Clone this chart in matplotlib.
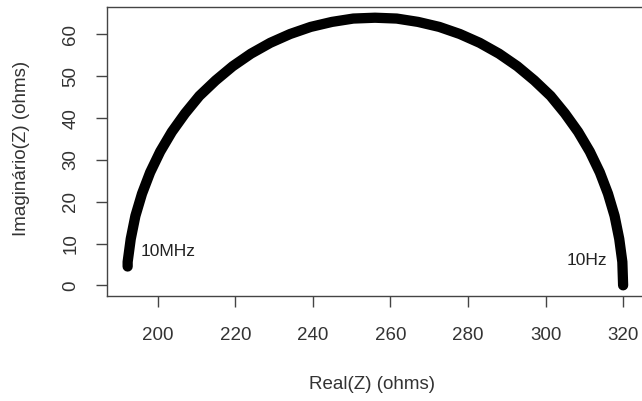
import matplotlib
matplotlib.use('Agg')
import matplotlib.pyplot as plt

# Nyquist plot: Real(Z) vs Imaginary(Z), from 10Hz (right) to 10MHz (left)
real_z = [320.0, 319.8, 319.0, 317.8, 316.1, 314.0, 311.4, 308.4, 305.0, 301.3,
          297.1, 292.7, 288.0, 283.0, 277.9, 272.6, 267.1, 261.6, 256.0, 250.4,
          244.9, 239.4, 234.1, 229.0, 224.0, 219.3, 214.9, 210.7, 207.0, 203.6,
          200.6, 198.0, 195.9, 194.2, 193.0, 192.2, 192.2]
imag_z = [0.0, 5.6, 11.1, 16.6, 21.9, 27.0, 32.0, 36.7, 41.1, 45.3,
          49.0, 52.4, 55.4, 58.0, 60.1, 61.8, 63.0, 63.8, 64.0, 63.8,
          63.0, 61.8, 60.1, 58.0, 55.4, 52.4, 49.0, 45.3, 41.1, 36.7,
          32.0, 27.0, 21.9, 16.6, 11.1, 5.6, 4.5]
x_ticks = [200, 220, 240, 260, 280, 300, 320]
y_ticks = [0, 10, 20, 30, 40, 50, 60]

plt.rcParams['font.family'] = ['Liberation Sans', 'DejaVu Sans']

fig = plt.figure(figsize=(6.42, 4.01), dpi=100)
ax = fig.add_axes([0.1667, 0.2618, 0.8348, 0.7207])

ax.plot(real_z, imag_z, color='black', lw=7.4,
        solid_capstyle='round', solid_joinstyle='round')

# frequency annotations at the two ends
ax.text(195.5, 8, '10MHz', fontsize=12.5, color='#222222', ha='left', va='center')
ax.text(316, 6, '10Hz', fontsize=12.5, color='#222222', ha='right', va='center')

# R-style 4% padding of the data range
ax.set_xlim(186.88, 325.12)
ax.set_ylim(-2.56, 66.56)
ax.set_xticks(x_ticks)
ax.set_yticks(y_ticks)

for s in ax.spines.values():
    s.set_color('#444444')
    s.set_linewidth(1.0)

ax.tick_params(axis='both', direction='out', length=8, width=1, color='#444444',
               labelsize=13.5, labelcolor='#333333', pad=14)
ax.tick_params(axis='y', labelrotation=90, pad=12)
for lab in ax.get_yticklabels():
    lab.set_va('center')

ax.set_xlabel('Real(Z) (ohms)', fontsize=13.5, color='#333333')
ax.set_ylabel('Imaginário(Z) (ohms)', fontsize=13.5, color='#333333')
ax.xaxis.set_label_coords(0.495, -0.277)
ax.yaxis.set_label_coords(-0.144, 0.51)

fig.savefig('out.png', dpi=100)
